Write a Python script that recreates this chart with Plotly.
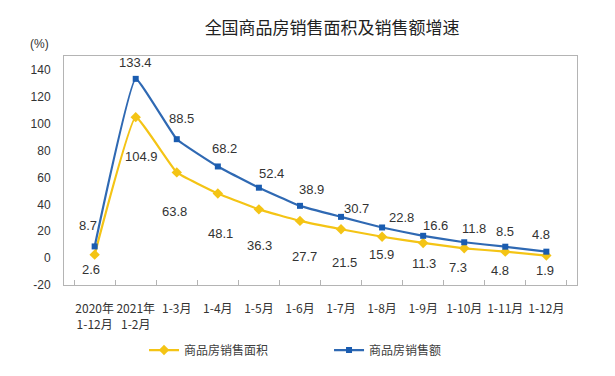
import plotly.graph_objects as go

categories = ["2020年<br>1-12月", "2021年<br>1-2月", "1-3月", "1-4月", "1-5月", "1-6月",
              "1-7月", "1-8月", "1-9月", "1-10月", "1-11月", "1-12月"]
area_growth = [2.6, 104.9, 63.8, 48.1, 36.3, 27.7, 21.5, 15.9, 11.3, 7.3, 4.8, 1.9]
sales_growth = [8.7, 133.4, 88.5, 68.2, 52.4, 38.9, 30.7, 22.8, 16.6, 11.8, 8.5, 4.8]
name_area = "商品房销售面积"
name_sales = "商品房销售额"
y_ticks = [-20, 0, 20, 40, 60, 80, 100, 120, 140]
y_ticktext = ["-20", "0", "20", "40", "60", "80", "100", "120", "140"]

# label offsets (px) relative to the marker: style only
sales_off = [(-7, 21), (0, 16), (5, 21), (7, 18), (13, 14), (12, 16), (15, 8), (19, 10),
             (12, 10), (10, 14), (0, 15), (-5, 17)]
area_off = [(-4, -15), (6, -39), (-2, -39), (3, -40), (1, -36), (5, -36), (3, -33), (-1, -18),
            (1, -21), (-6, -19), (-5, -19), (-1, -15)]

BLUE = "#2F69B3"
BLUE_M = "#1A5CB0"
YELLOW = "#F4C415"
FONT = "Liberation Sans, Arial, Noto Sans CJK SC, sans-serif"
CJK = "Noto Sans CJK SC, sans-serif"
TXT = "#333333"
BORDER = "#B4B4B4"

fig = go.Figure()
fig.add_trace(go.Scatter(
    x=categories, y=area_growth, name=name_area, mode="lines+markers",
    line=dict(color=YELLOW, width=2.2, shape="spline", smoothing=0.3),
    marker=dict(symbol="diamond", size=8, color=YELLOW),
))
fig.add_trace(go.Scatter(
    x=categories, y=sales_growth, name=name_sales, mode="lines+markers",
    line=dict(color=BLUE, width=2.2, shape="spline", smoothing=0.3),
    marker=dict(symbol="square", size=6, color=BLUE_M),
))

ann = []
for c, v, (dx, dy) in zip(categories, sales_growth, sales_off):
    ann.append(dict(x=c, y=v, xref="x", yref="y", text=f"{v:.1f}", showarrow=False,
                    xshift=dx, yshift=dy, font=dict(size=13, color=TXT, family=FONT)))
for c, v, (dx, dy) in zip(categories, area_growth, area_off):
    ann.append(dict(x=c, y=v, xref="x", yref="y", text=f"{v:.1f}", showarrow=False,
                    xshift=dx, yshift=dy, font=dict(size=13, color=TXT, family=FONT)))
ann.append(dict(x=-0.047, y=1.052, xref="paper", yref="paper", text="(%)", showarrow=False,
                xanchor="center", yanchor="middle", font=dict(size=12, color=TXT, family=FONT)))

# page body has an 8px default margin, so the figure is 8px smaller than the window
fig.update_layout(
    width=607, height=368,
    margin=dict(l=56, r=38, t=48, b=91, autoexpand=False),
    paper_bgcolor="white", plot_bgcolor="white",
    font=dict(family=FONT, color=TXT, size=12),
    title=dict(text="全国商品房销售面积及销售额增速", x=0.534, xanchor="center",
               y=1 - 20 / 368, yanchor="middle", yref="container",
               font=dict(size=17, color="#222222", family=CJK)),
    showlegend=True,
    legend=dict(orientation="h", x=0.156, xanchor="left", y=-0.284, yanchor="middle",
                entrywidth=140, entrywidthmode="pixels",
                font=dict(size=12, color="#404040", family=CJK),
                bgcolor="rgba(0,0,0,0)"),
    annotations=ann,
)
fig.update_xaxes(type="category", showline=True, mirror=True, linecolor=BORDER, linewidth=1,
                 showgrid=False, ticks="inside", tickson="boundaries", ticklen=5,
                 tickcolor=BORDER, ticklabelstandoff=13, tickangle=0, automargin=False,
                 tickfont=dict(size=12, color=TXT, family=CJK),
                 zeroline=False)
fig.update_yaxes(range=[-20, 150.4], tickvals=y_ticks, ticktext=y_ticktext,
                 showline=True, mirror=True, automargin=False,
                 linecolor=BORDER, linewidth=1, showgrid=False, zeroline=False,
                 ticks="", ticklabelstandoff=10,
                 tickfont=dict(size=12, color=TXT, family=FONT))

fig.write_html("out.html")
